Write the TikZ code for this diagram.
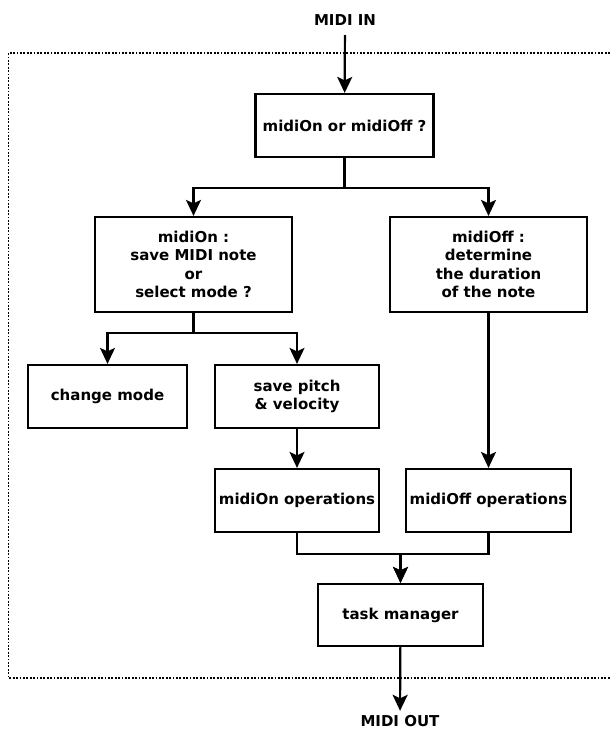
\documentclass[tikz,border=0pt]{standalone}
\usepackage{fontspec}
\setmainfont{DejaVu Sans}
\usetikzlibrary{arrows.meta}

\begin{document}
\begin{tikzpicture}[x=1pt,y=-1pt,
    font=\fontsize{15}{18.3}\selectfont\bfseries,
    block/.style={draw,line width=2.2pt,align=center,inner sep=0pt},
    flow/.style={line width=2.2pt,-{Stealth[length=16pt,width=15pt,inset=3.5pt]}}]
\useasboundingbox (0,0) rectangle (610,731);
\draw[line width=1.8pt,dash pattern=on 1.8pt off 1.6pt] (610,53) -| (8.5,678) -- (610,678);

\node (in) at (345,20) {MIDI IN};
\node (q) [block,minimum width=178pt,minimum height=63pt] at (344.5,125.5) {midiOn or midiOff ?};
\node (on) [block,minimum width=197pt,minimum height=95pt] at (193.5,264.5) {midiOn :\\save MIDI note\\or\\select mode ?};
\node (off) [block,minimum width=197pt,minimum height=95pt] at (488.5,264.5) {midiOff :\\determine\\the duration\\of the note};
\node (mode) [block,minimum width=159pt,minimum height=63pt] at (107.5,396.5) {change mode};
\node (save) [block,minimum width=164pt,minimum height=63pt] at (297,396.5) {save pitch\\\& velocity};
\node (onop) [block,minimum width=164pt,minimum height=63pt] at (297,500.5) {midiOn operations};
\node (offop) [block,minimum width=165pt,minimum height=63pt] at (488.5,500.5) {midiOff operations};
\node (task) [block,minimum width=165pt,minimum height=62pt] at (400.5,615) {task manager};
\node (out) at (400,721) {MIDI OUT};

\draw[flow,shorten <=6pt] (in) -- (q);
\foreach \to in {on,off}
    \draw[flow] (q.south) -- ++(0,30) -| (\to.north);
\foreach \to in {mode,save}
    \draw[flow] (on.south) -- ++(0,20) -| (\to.north);
\draw[flow] (save) -- (onop);
\draw[flow] (off) -- (offop);
\foreach \from in {onop,offop}
    \draw[flow] (\from.south) -- ++(0,21) -| (task.north);
\draw[flow,shorten >=1pt] (task) -- (out);
\end{tikzpicture}
\end{document}
